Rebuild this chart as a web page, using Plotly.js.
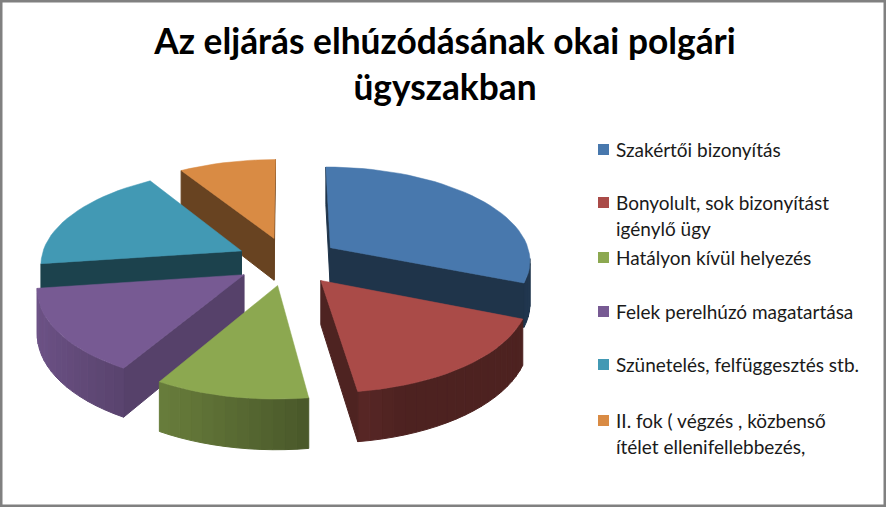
<!DOCTYPE html>
<html><head><meta charset="utf-8">
<script src="https://cdn.plot.ly/plotly-3.0.1.min.js"></script>
<style>html,body{margin:0;padding:0;background:#fff}</style></head>
<body><div id="chart" style="width:886px;height:507px"></div>
<script>
// Data
const categories = ["Szakértői bizonyítás","Bonyolult, sok bizonyítást igénylő ügy","Hatályon kívül helyezés","Felek perelhúzó magatartása","Szünetelés, felfüggesztés stb.","II. fok ( végzés , közbenső ítélet ellenifellebbezés,"];
const values = [31.1, 16.7, 10.6, 14.4, 18.3, 8.9];
const legendLines = [["Szakértői bizonyítás"],["Bonyolult, sok bizonyítást","igénylő ügy"],["Hatályon kívül helyezés"],["Felek perelhúzó magatartása"],["Szünetelés, felfüggesztés stb."],["II. fok ( végzés , közbenső","ítélet ellenifellebbezés,"]];
const titleText = "Az eljárás elhúzódásának okai polgári<br>ügyszakban";

// Styles
const colors = ["#4878AD","#AA4B48","#8CA850","#775A93","#4299B4","#D98B44"];
const radialShade = [0.43,0.46,0.5,0.72,0.43,0.48];
const drawOrder = [5,0,4,3,2,1];
const legendY = [[149.5],[202.5,228.5],[257.5],[311.5],[364.5],[420.5,446.5]];

// Projection
const cx=288, cy=261, R=201, T=0.465, K=0.0006, P=52, D=43, N=60;
function project(X,V){const s=1/(1+K*V);return [cx+X*s, cy-T*V*s, s];}
function shadeColor(hex,f){
  const n=parseInt(hex.slice(1),16);
  return "rgb("+[(n>>16)&255,(n>>8)&255,n&255].map(c=>Math.round(c*f)).join(",")+")";
}
const total=values.reduce((a,b)=>a+b,0);
let acc=0;
const slices=values.map(v=>{const a0=acc/total*2*Math.PI;acc+=v;return [a0,acc/total*2*Math.PI];});

const traces=[];
function poly(pts,color,name,w){
  traces.push({type:"scatter",mode:"lines",x:pts.map(p=>p[0]),y:pts.map(p=>p[1]),fill:"toself",fillcolor:color,
    line:{color:color,width:w},hoverinfo:"text",text:name,showlegend:false});
}
drawOrder.forEach(i=>{
  const [a0,a1]=slices[i], m=(a0+a1)/2;
  const ax=P*Math.sin(m), av=P*Math.cos(m);
  const top=[project(ax,av)];
  const steps=Math.max(4,Math.round((a1-a0)/(2*Math.PI)*N*2));
  for(let j=0;j<=steps;j++){
    const t=a0+(a1-a0)*j/steps, u=Math.sin(t), v=Math.cos(t);
    const pt=project(ax+R*u,av+R*v); pt.u=u; top.push(pt);
  }
  const n=top.length;
  for(let j=0;j<n;j++){
    const p=top[j], q=top[(j+1)%n];
    if(q[0]-p[0]>=0) continue;
    const radial=(j===0||j===n-1);
    const um=radial?0:(p.u+q.u)/2;
    const f=radial?radialShade[i]:Math.max(0.45,0.57-0.35*um);
    poly([[p[0],p[1]],[q[0],q[1]],[q[0],q[1]+D*q[2]],[p[0],p[1]+D*p[2]],[p[0],p[1]]],shadeColor(colors[i],f),categories[i],1);
  }
  poly(top.concat([top[0]]).map(p=>[p[0],p[1]]),colors[i],categories[i],0.5);
});
// legend swatches
traces.push({type:"scatter",mode:"markers",x:categories.map(()=>603.5),y:legendY.map(r=>r[0]),
  marker:{symbol:"square",size:11,color:colors},hoverinfo:"text",text:categories,showlegend:false});

const annotations=[];
legendLines.forEach((lines,i)=>lines.forEach((t,j)=>annotations.push({
  x:614,y:legendY[i][j],xref:"x",yref:"y",xanchor:"left",yanchor:"middle",showarrow:false,text:t,
  font:{family:"Lato, sans-serif",size:19,color:"#1a1a1a"}})));

const layout={width:886,height:507,margin:{l:0,r:0,t:0,b:0},paper_bgcolor:"#fff",plot_bgcolor:"#fff",
  title:{text:titleText,x:445/886,xanchor:"center",y:0.894,yanchor:"top",font:{family:"Lato, sans-serif",size:35.3,color:"#000",weight:700}},
  xaxis:{range:[0,886],visible:false,fixedrange:true},yaxis:{range:[507,0],visible:false,fixedrange:true},
  annotations:annotations,showlegend:false,
  shapes:[{type:"rect",xref:"paper",yref:"paper",x0:0,x1:1,y0:0,y1:1,line:{color:"#808080",width:5}}]};
Plotly.newPlot("chart",traces,layout,{displayModeBar:false,staticPlot:true});
</script></body></html>
